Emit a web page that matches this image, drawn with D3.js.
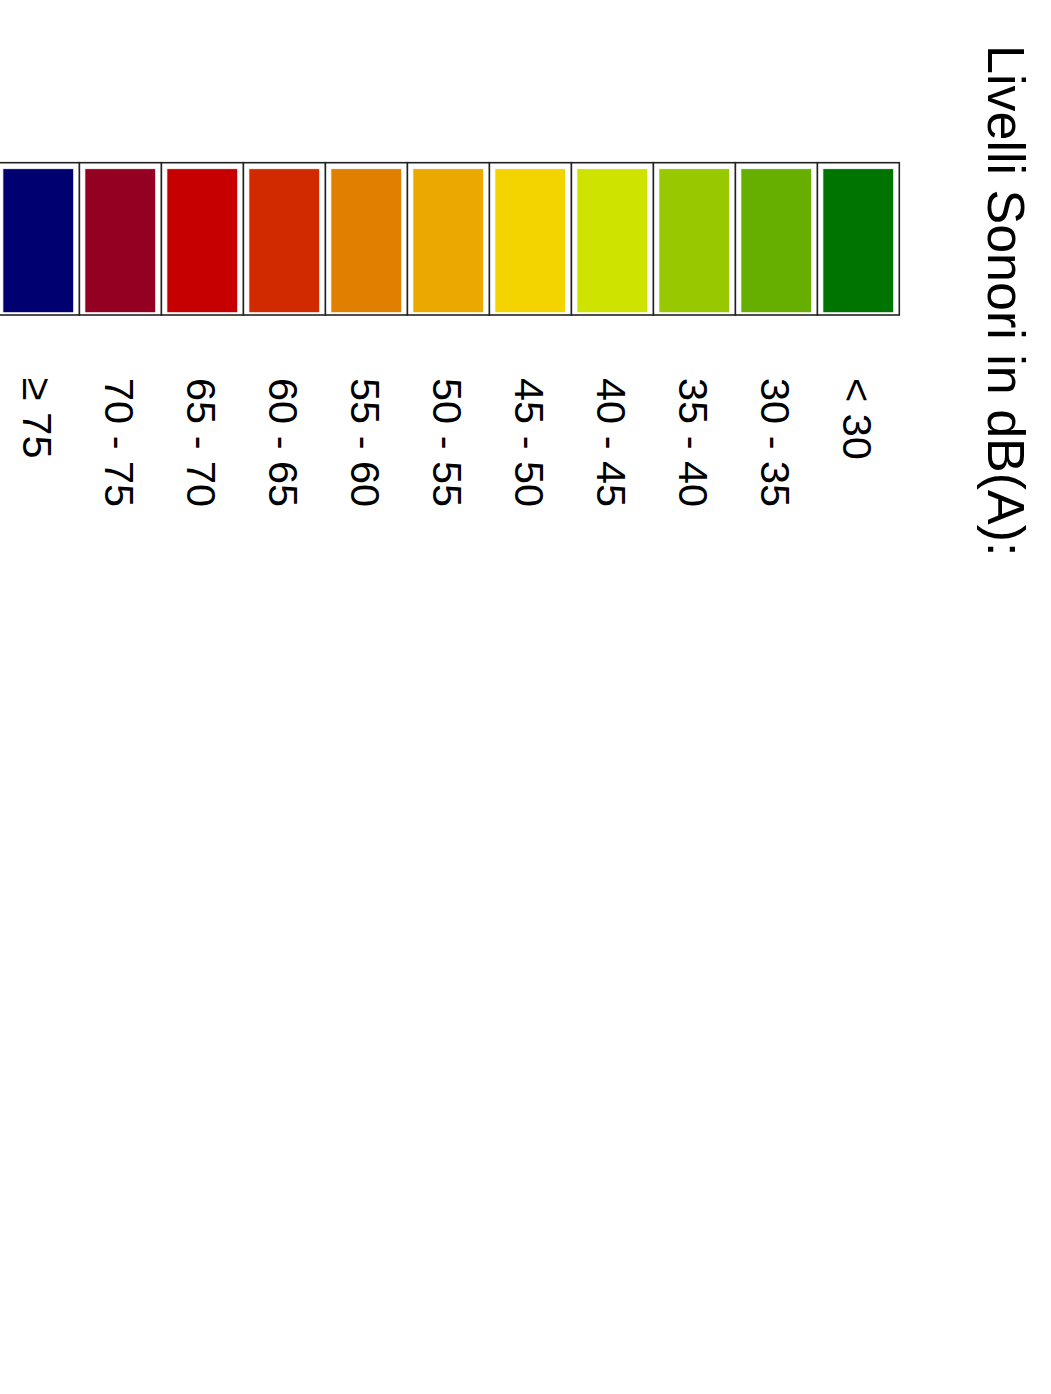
<!DOCTYPE html>
<html>
<head>
<meta charset="utf-8">
<script src="https://cdn.jsdelivr.net/npm/d3@7"></script>
<style>
  html, body { margin: 0; padding: 0; background: #fff; }
  svg { display: block; }
</style>
</head>
<body>
<div class="chart"></div>
<script>
const title = "Livelli Sonori in dB(A):"
const classes = ["< 30", "30 - 35", "35 - 40", "40 - 45", "45 - 50", "50 - 55",
                 "55 - 60", "60 - 65", "65 - 70", "70 - 75", "\u2265 75"]
const colors = ["#007400", "#66ae00", "#98c800", "#cee400", "#f3d400", "#eba900",
                "#e07f00", "#d12a00", "#c60000", "#930021", "#000070"]

const width = 1051
const height = 1394

const svg = d3.select(".chart").append("svg")
    .attr("width", width)
    .attr("height", height)

// whole legend is turned a quarter clockwise
const g = svg.append("g")
    .attr("transform", `translate(${width},0) rotate(90)`)

const y = d3.scaleBand()
    .domain(classes)
    .range([151.7, 1053.7])

const boxTop = 162.7, boxBottom = 315

g.append("text")
    .attr("x", 45)
    .attr("y", 63)
    .attr("font-family", "Liberation Sans, Arial, sans-serif")
    .attr("font-size", 52)
    .attr("fill", "#000")
    .text(title)

const rows = g.selectAll(".row")
    .data(classes)
    .join("g")
      .attr("class", "row")

rows.append("rect")
    .attr("x", boxTop)
    .attr("y", d => y(d))
    .attr("width", boxBottom - boxTop)
    .attr("height", y.bandwidth())
    .attr("fill", "white")
    .attr("stroke", "#222")
    .attr("stroke-width", 1.6)

rows.append("rect")
    .attr("x", boxTop + 6)
    .attr("y", d => y(d) + 5.6)
    .attr("width", 144)
    .attr("height", y.bandwidth() - 11.2)
    .attr("fill", (d, i) => colors[i])
    .attr("stroke", "white")
    .attr("stroke-width", 0.8)

rows.append("text")
    .attr("x", 378)
    .attr("y", d => y(d) + y.bandwidth() / 2)
    .attr("dy", "0.36em")
    .attr("font-family", "Liberation Sans, Arial, sans-serif")
    .attr("font-size", 41.5)
    .attr("fill", "#000")
    .text(d => d)
</script>
</body>
</html>
